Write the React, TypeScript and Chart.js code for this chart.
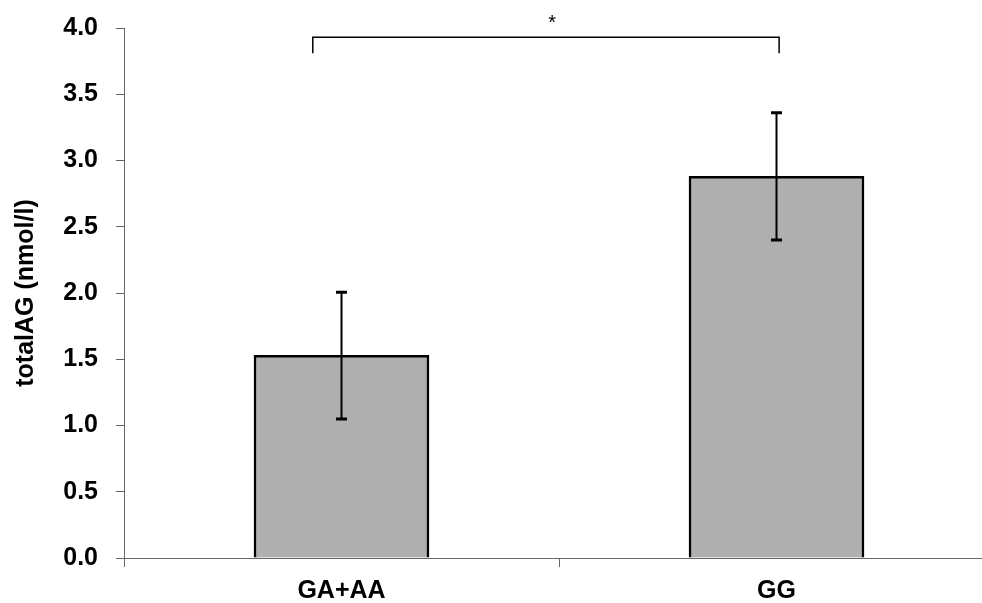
import React, { useEffect, useRef } from "react";
import { Chart, registerables } from "chart.js";

Chart.register(...registerables);

// ---- data ----
const categories = ["GA+AA", "GG"];
const categoryX = [0, 1];
const meanValues = [1.53, 2.88];
const errUpper = [0.475, 0.48];
const errLower = [0.48, 0.48];
const yTicks = [0, 0.5, 1, 1.5, 2, 2.5, 3, 3.5, 4];
const xTickPositions = [-0.5, 0, 0.5, 1];
const yTitle = "totalAG (nmol/l)";
// significance bracket (data coordinates)
const bracketX = [-0.066, 1.006];
const bracketTopY = [3.93];
const bracketLegBottomY = [3.81];
const sigLabel = ["*"];
const sigPosX = [0.484];
const sigPosY = [3.99];

const FONT = "'Liberation Sans', Arial, Helvetica, sans-serif";
const AXIS_COLOR = "#666666";

const errorBarPlugin = {
  id: "errorBars",
  afterDatasetsDraw(chart: any) {
    const { ctx, scales } = chart;
    const xs = scales.x;
    const ys = scales.y;
    ctx.save();
    ctx.strokeStyle = "#000";
    for (let i = 0; i < meanValues.length; i++) {
      const x = xs.getPixelForValue(categoryX[i]);
      const yT = ys.getPixelForValue(meanValues[i] + errUpper[i]);
      const yB = ys.getPixelForValue(meanValues[i] - errLower[i]);
      ctx.lineWidth = 2;
      ctx.beginPath();
      ctx.moveTo(x, yT);
      ctx.lineTo(x, yB);
      ctx.stroke();
      ctx.lineWidth = 3;
      ctx.beginPath();
      ctx.moveTo(x - 5.5, yT);
      ctx.lineTo(x + 5.5, yT);
      ctx.moveTo(x - 5.5, yB);
      ctx.lineTo(x + 5.5, yB);
      ctx.stroke();
    }
    // bracket
    const x0 = xs.getPixelForValue(bracketX[0]);
    const x1 = xs.getPixelForValue(bracketX[1]);
    const yTop = ys.getPixelForValue(bracketTopY[0]);
    const yLeg = ys.getPixelForValue(bracketLegBottomY[0]);
    ctx.lineWidth = 1.5;
    ctx.beginPath();
    ctx.moveTo(x0, yLeg);
    ctx.lineTo(x0, yTop);
    ctx.lineTo(x1, yTop);
    ctx.lineTo(x1, yLeg);
    ctx.stroke();
    ctx.fillStyle = "#000";
    ctx.font = `20px ${FONT}`;
    ctx.textAlign = "center";
    ctx.textBaseline = "alphabetic";
    ctx.fillText(sigLabel[0], xs.getPixelForValue(sigPosX[0]), ys.getPixelForValue(sigPosY[0]));
    ctx.restore();
  },
};

export default function App() {
  const canvasRef = useRef<HTMLCanvasElement | null>(null);

  useEffect(() => {
    if (!canvasRef.current) return;
    const chart = new Chart(canvasRef.current, {
      type: "bar",
      data: {
        datasets: [
          {
            data: categoryX.map((x, i) => ({ x, y: meanValues[i] })),
            backgroundColor: "#afafaf",
            borderColor: "#000",
            borderWidth: 2.5,
            barThickness: 175,
          } as any,
        ],
      },
      plugins: [errorBarPlugin],
      options: {
        animation: false,
        responsive: false,
        devicePixelRatio: 1,
        layout: { padding: { top: 28, left: 0, right: 0, bottom: 0 } },
        plugins: {
          legend: { display: false },
          tooltip: { enabled: false },
        },
        scales: {
          x: {
            type: "linear",
            min: -0.5,
            max: 1.4724,
            offset: false,
            afterBuildTicks: (scale: any) => {
              scale.ticks = xTickPositions.map((v) => ({ value: v }));
            },
            afterFit: (scale: any) => {
              scale.height = 45;
              scale.paddingLeft = 0;
              scale.paddingRight = 0;
            },
            ticks: {
              autoSkip: false,
              maxRotation: 0,
              padding: 9,
              color: "#000",
              font: { family: FONT, size: 25, weight: "bold" },
              callback: (v: any) => {
                const idx = categoryX.indexOf(Number(v));
                return idx >= 0 ? categories[idx] : "";
              },
            },
            grid: {
              offset: false,
              drawOnChartArea: false,
              tickLength: 9,
              color: (c: any) =>
                c.tick && Number.isInteger(c.tick.value) ? "rgba(0,0,0,0)" : AXIS_COLOR,
            },
            border: { display: true, color: AXIS_COLOR, width: 1 },
          },
          y: {
            min: 0,
            max: 4,
            afterBuildTicks: (scale: any) => {
              scale.ticks = yTicks.map((v) => ({ value: v }));
            },
            afterFit: (scale: any) => {
              scale.width = 124;
              scale.paddingTop = 0;
              scale.paddingBottom = 0;
            },
            ticks: {
              padding: 18,
              color: "#000",
              font: { family: FONT, size: 25, weight: "bold" },
              callback: (v: any) => Number(v).toFixed(1),
            },
            grid: {
              drawOnChartArea: false,
              tickLength: 8,
              color: AXIS_COLOR,
            },
            border: { display: true, color: AXIS_COLOR, width: 1 },
            title: {
              display: true,
              text: yTitle,
              color: "#000",
              font: { family: FONT, size: 25, weight: "bold" },
              padding: { top: 11, bottom: 0 },
            },
          },
        },
      } as any,
    });
    return () => chart.destroy();
  }, []);

  return (
    <div style={{ position: "fixed", left: 0, top: 0, width: 982, height: 603, background: "#fff" }}>
      <canvas ref={canvasRef} width={982} height={603} style={{ display: "block" }} />
    </div>
  );
}
